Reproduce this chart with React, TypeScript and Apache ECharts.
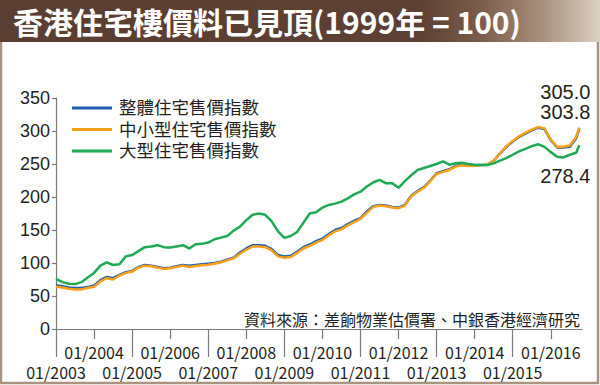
import React, { useEffect, useRef } from "react";
import * as echarts from "echarts";

const months = [
  "2003-01", "2003-03", "2003-05", "2003-07", "2003-09", "2003-11",
  "2004-01", "2004-03", "2004-05", "2004-07", "2004-09", "2004-11",
  "2005-01", "2005-03", "2005-05", "2005-07", "2005-09", "2005-11",
  "2006-01", "2006-03", "2006-05", "2006-07", "2006-09", "2006-11",
  "2007-01", "2007-03", "2007-05", "2007-07", "2007-09", "2007-11",
  "2008-01", "2008-03", "2008-05", "2008-07", "2008-09", "2008-11",
  "2009-01", "2009-03", "2009-05", "2009-07", "2009-09", "2009-11",
  "2010-01", "2010-03", "2010-05", "2010-07", "2010-09", "2010-11",
  "2011-01", "2011-03", "2011-05", "2011-07", "2011-09", "2011-11",
  "2012-01", "2012-03", "2012-05", "2012-07", "2012-09", "2012-11",
  "2013-01", "2013-03", "2013-05", "2013-07", "2013-09", "2013-11",
  "2014-01", "2014-03", "2014-05", "2014-07", "2014-09", "2014-11",
  "2015-01", "2015-03", "2015-05", "2015-07", "2015-09", "2015-11",
  "2016-01", "2016-03", "2016-05", "2016-07", "2016-09", "2016-10",
];

const overall = [
  66, 65, 63, 62, 62, 63.5,
  66, 74, 79, 77, 82, 86,
  88, 94, 97, 96, 94, 92,
  93, 95, 97, 96, 97, 98,
  99, 100, 102, 105, 108, 116,
  122, 127, 127, 126, 121, 112,
  110, 111, 117, 124, 128, 133,
  137, 144, 150, 153, 159, 164,
  168, 178, 186, 188, 187, 185,
  184, 188, 202, 209, 215, 225,
  236, 239, 242, 247, 249, 247.5,
  248, 248.5, 249, 255, 266, 276,
  284, 291, 296, 301, 305, 303,
  286, 275, 275, 276, 289, 303.8,
];

const smallMedium = [
  64, 63, 61, 60, 60, 62,
  64, 72, 77, 75, 81, 85,
  87, 93, 96, 95, 93, 91,
  92, 94, 96, 94, 95.5, 96.5,
  97.5, 99, 101, 104, 107, 114,
  120, 125, 125, 124, 119, 110,
  108, 109, 115, 122, 126, 131,
  135, 142, 148, 151, 157, 162,
  167, 176, 185, 187, 186, 184,
  183, 187, 201, 208, 214, 224,
  235, 238, 241, 246, 248, 247,
  247.5, 248, 249, 255, 266, 277,
  285, 292, 297, 302, 306, 304,
  287, 276, 276, 278, 291, 305.0,
];

const large = [
  76, 71, 68.5, 68, 71, 78,
  85, 96, 101, 97, 98, 110,
  112, 118, 124, 125, 127, 124,
  123.5, 125, 127, 122, 128.5, 129,
  131, 136, 138.5, 141, 149, 155,
  165, 173, 175, 173, 163, 148,
  138, 141, 147, 161, 175, 177,
  184, 188, 190, 193, 198, 204,
  208, 216, 222, 226, 221, 221,
  214, 224, 233, 241, 244, 247,
  250, 254, 249, 251, 252, 250,
  249, 248.5, 248.5, 251, 255, 259,
  264, 269, 273, 277, 280, 276,
  268, 261, 260, 264, 267, 278.4,
];

const seriesNames = ["整體住宅售價指數", "中小型住宅售價指數", "大型住宅售價指數"];
const seriesColors = ["#1f5fae", "#f6a01c", "#1fa954"];
const evenYears = [2004, 2006, 2008, 2010, 2012, 2014, 2016];
const oddYears = [2003, 2005, 2007, 2009, 2011, 2013, 2015];
const titleText = "香港住宅樓價料已見頂(1999年 = 100)";
const sourceText = "資料來源：差餉物業估價署、中銀香港經濟研究";

const NARROW = "'Liberation Sans Narrow', 'Arial Narrow', 'Noto Sans CJK TC', sans-serif";
const SANS = "'Liberation Sans', Arial, 'Noto Sans CJK TC', sans-serif";
const CJK = "'Noto Sans CJK TC', 'Liberation Sans', sans-serif";
const TEXT = "#231f20";
const AXIS = "#7a7a7a";

const toYear = (m: string) => Number(m.slice(0, 4)) + (Number(m.slice(5, 7)) - 1) / 12;
const fmtLabel = (v: number) => "01/" + Math.round(v);

export default function App() {
  const ref = useRef<HTMLDivElement>(null);

  useEffect(() => {
    if (!ref.current) return;
    const chart = echarts.init(ref.current, undefined, { renderer: "svg" });
    const allValues = [overall, smallMedium, large];
    const endOffsets: [number, number][] = [[-14, -16.5], [-14, -36], [-14, 31]];

    const series = allValues.map((vals, i) => {
      const data = vals.map((v, k) => [toYear(months[k]), v]);
      const last = data[data.length - 1];
      return {
        name: seriesNames[i],
        type: "line",
        data,
        showSymbol: false,
        symbol: "none",
        lineStyle: { width: 2.5, color: seriesColors[i] },
        itemStyle: { color: seriesColors[i] },
        z: 2 + i,
        markPoint: {
          symbol: "circle",
          symbolSize: 1,
          itemStyle: { color: "rgba(0,0,0,0)" },
          silent: true,
          data: [
            {
              coord: last,
              value: last[1],
              label: {
                show: true,
                position: "inside",
                offset: endOffsets[i],
                formatter: () => (last[1] as number).toFixed(1),
                fontSize: 20,
                fontFamily: SANS,
                color: TEXT,
              },
            },
          ],
        },
      };
    });

    chart.setOption({
      animation: false,
      backgroundColor: "#ffffff",
      grid: { left: 56, right: 18, top: 98, bottom: 56, containLabel: false },
      legend: {
        show: true,
        orient: "vertical",
        left: 72,
        top: 98,
        padding: 0,
        itemWidth: 40,
        itemHeight: 3,
        itemGap: 1.5,
        icon: "rect",
        data: seriesNames,
        textStyle: {
          fontSize: 17.5,
          lineHeight: 20,
          fontFamily: SANS,
          color: TEXT,
          padding: [0, 0, 0, 2],
        },
      },
      xAxis: [
        {
          type: "value",
          min: 2003,
          max: 2016.82,
          position: "bottom",
          splitLine: { show: false },
          axisLine: { show: true, lineStyle: { color: AXIS, width: 1.2 } },
          axisTick: {
            show: true,
            customValues: evenYears,
            length: 10,
            lineStyle: { color: AXIS, width: 1.2 },
          },
          axisLabel: {
            show: true,
            customValues: evenYears,
            formatter: fmtLabel,
            margin: 15,
            fontSize: 16,
            fontFamily: NARROW,
            color: TEXT,
          },
        },
        {
          type: "value",
          min: 2003,
          max: 2016.82,
          position: "bottom",
          splitLine: { show: false },
          axisLine: { show: true, lineStyle: { color: AXIS, width: 1.2 } },
          axisTick: {
            show: true,
            customValues: oddYears,
            length: 28,
            lineStyle: { color: AXIS, width: 1.2 },
          },
          axisLabel: {
            show: true,
            customValues: oddYears,
            formatter: fmtLabel,
            margin: 35,
            fontSize: 16,
            fontFamily: NARROW,
            color: TEXT,
          },
        },
      ],
      yAxis: {
        type: "value",
        min: 0,
        max: 350,
        interval: 50,
        splitLine: { show: false },
        axisLine: { show: true, lineStyle: { color: AXIS, width: 1.2 } },
        axisTick: { show: true, length: 4, lineStyle: { color: AXIS, width: 1.2 } },
        axisLabel: {
          fontSize: 18,
          fontFamily: SANS,
          color: TEXT,
          margin: 6,
        },
      },
      graphic: [
        {
          type: "rect",
          z: -10,
          shape: { x: 1, y: 1, width: 597, height: 382 },
          style: { fill: "none", stroke: "#a8947f", lineWidth: 2.5 },
        },
        {
          type: "rect",
          z: -5,
          shape: { x: 0, y: 0, width: 600, height: 42 },
          style: {
            fill: new echarts.graphic.LinearGradient(0, 0, 1, 0, [
              { offset: 0, color: "#5a3e31" },
              { offset: 0.7, color: "#5c4033" },
              { offset: 0.8, color: "#7b5c4a" },
              { offset: 0.9, color: "#a68d7a" },
              { offset: 1, color: "#dcd0c4" },
            ]),
          },
        },
        {
          type: "text",
          x: 13,
          y: 21,
          style: {
            text: titleText,
            fill: "#ffffff",
            fontSize: 30,
            lineHeight: 30,
            fontWeight: "bold",
            fontFamily: NARROW,
            align: "left",
            verticalAlign: "middle",
          },
        },
        {
          type: "text",
          x: 580,
          y: 319,
          style: {
            text: sourceText,
            fill: TEXT,
            fontSize: 16,
            fontFamily: CJK,
            align: "right",
            verticalAlign: "middle",
          },
        },
      ],
      series,
    });

    return () => chart.dispose();
  }, []);

  return (
    <div
      ref={ref}
      style={{ position: "absolute", left: 0, top: 0, width: 600, height: 385 }}
    />
  );
}
